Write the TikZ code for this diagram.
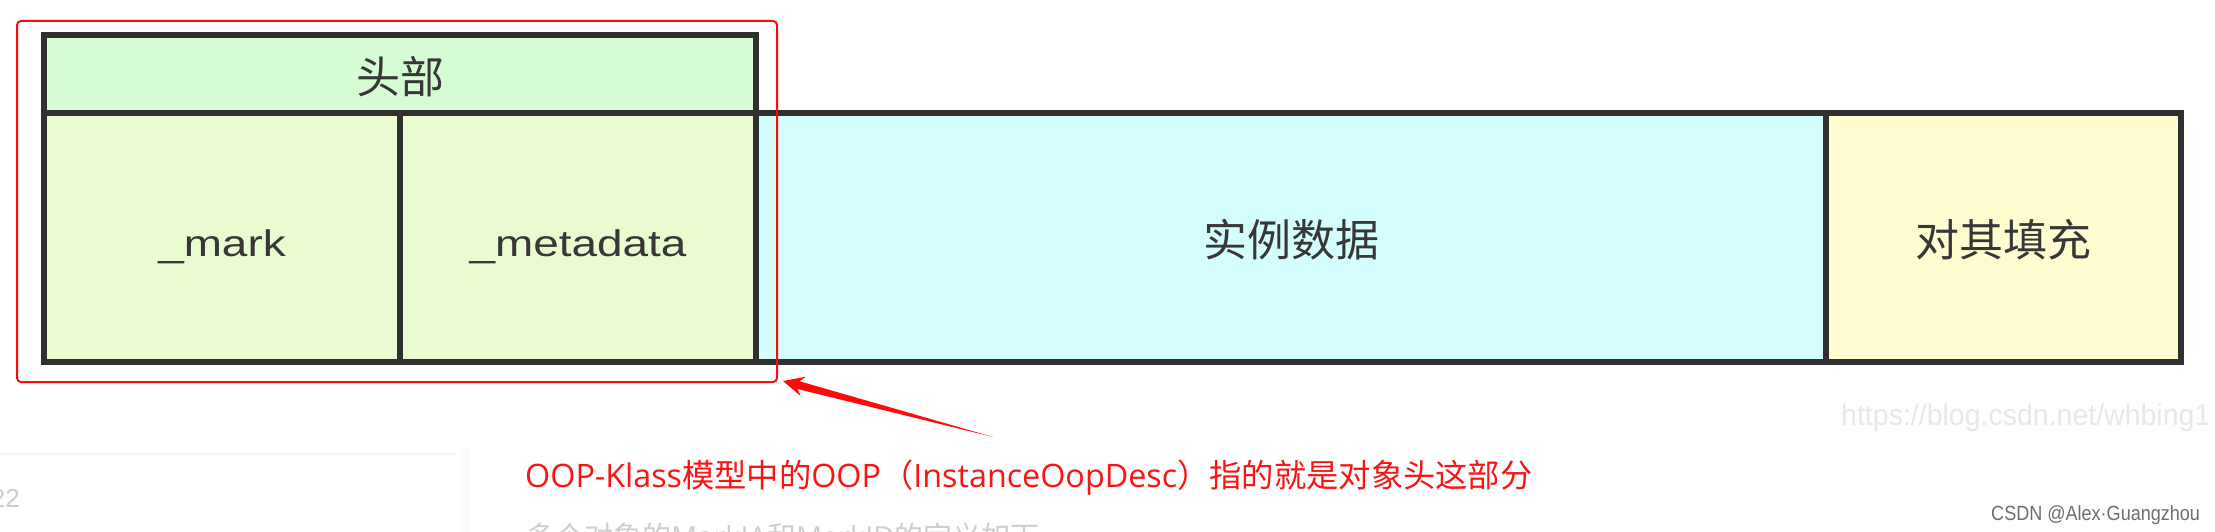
\documentclass[tikz,border=0pt]{standalone}
\usepackage{fontspec}
\setmainfont{Liberation Sans}
\newfontfamily\cjk{Noto Sans CJK SC}
\newfontfamily\osans{Open Sans}
\usetikzlibrary{calc}
\definecolor{bordergray}{RGB}{48,48,48}
\definecolor{txtgray}{RGB}{55,55,55}
\definecolor{hdrgreen}{RGB}{213,252,211}
\definecolor{cellgreen}{RGB}{234,252,207}
\definecolor{instcyan}{RGB}{212,254,254}
\definecolor{padyellow}{RGB}{255,253,208}
\definecolor{redline}{RGB}{255,10,10}
\definecolor{redtxt}{RGB}{250,20,20}
\definecolor{fadegray}{RGB}{205,205,205}
\definecolor{wmgray}{RGB}{232,232,232}
\definecolor{csdngray}{RGB}{110,110,110}
\definecolor{panelline}{RGB}{245,245,245}
\definecolor{panelfill}{RGB}{251,251,251}
\newcommand{\sx}[2]{\scalebox{#1}[1]{#2}}
\tikzset{
  cell/.style={draw=bordergray, line width=5.5pt, minimum height=249pt, inner sep=0pt, anchor=center},
  cjklbl/.style={font=\cjk\fontsize{44}{50}\selectfont, text=txtgray, inner sep=0pt},
  latlbl/.style={font=\fontsize{37}{44}\selectfont, text=txtgray, inner sep=0pt},
  redframe/.style={draw=redline, line width=2pt, rounded corners=4pt, inner sep=0pt},
  plaintext/.style={inner sep=0pt},
}
\begin{document}
\begin{tikzpicture}[x=1pt,y=-1pt]
\useasboundingbox (0,0) rectangle (2215,532);
\clip (0,0) rectangle (2215,532);
\fill[white] (0,0) rectangle (2215,532);
% faint page panels
\draw[panelline, line width=2pt] (0,454) -- (457,454);
\fill[panelfill] (460,448) rectangle (470,532);
% cells
\node[cell, fill=hdrgreen, minimum width=712pt, minimum height=78pt] (header) at (400,74) {};
\node[cell, fill=cellgreen, minimum width=356pt] (mark) at (222,237.5) {};
\node[cell, fill=cellgreen, minimum width=356pt] (meta) at (578,237.5) {};
\node[cell, fill=instcyan, minimum width=1070pt] (inst) at (1291,237.5) {};
\node[cell, fill=padyellow, minimum width=355pt] (pad) at (2003.5,237.5) {};
% labels
\node[cjklbl] (hdrtxt) at ([yshift=-3pt]header.center) {头部};
\node[latlbl] (marktxt) at ([yshift=-9pt]mark.center) {\sx{1.24}{\_mark}};
\node[latlbl] (metatxt) at ([yshift=-9pt]meta.center) {\sx{1.24}{\_metadata}};
\node[cjklbl] (insttxt) at ([yshift=-2.5pt]inst.center) {实例数据};
\node[cjklbl] (padtxt) at ([yshift=-2.5pt]pad.center) {对其填充};
% red highlight frame
\node[redframe, minimum width=760pt, minimum height=361pt] (redbox) at (397,201.5) {};
% tapered red arrow
\coordinate (tip) at (783,381);
\coordinate (tail) at (993,437);
\coordinate (hb) at ($(tip)!21pt!(tail)$);
\coordinate (sb) at ($(tip)!16pt!(tail)$);
\fill[redline] (tip) -- ($(hb)!10pt!90:(tail)$) -- ($(sb)!4pt!90:(tail)$) -- (tail)
  -- ($(sb)!4pt!-90:(tail)$) -- ($(hb)!10pt!-90:(tail)$) -- cycle;
% annotation text
\node[plaintext, anchor=base west, text=redtxt, font=\fontsize{32.3}{38}\selectfont] (note) at (525,487)
  {{\osans OOP-Klass}{\cjk 模型中的}{\osans OOP}{\cjk （}{\osans InstanceOopDesc}{\cjk ）指的就是对象头这部分}};
\node[plaintext, anchor=base west, text=fadegray, font=\fontsize{29}{34}\selectfont] (nextline) at (526,547)
  {{\cjk 多个对象的}{\osans MarkIA}{\cjk 和}{\osans MarkID}{\cjk 的定义如下}};
\node[plaintext, anchor=base east, text=fadegray, font=\fontsize{26}{30}\selectfont] (pagenum) at (20,507) {22};
\node[plaintext, anchor=base west, text=wmgray, font=\fontsize{30}{36}\selectfont] (wm) at (1841,425)
  {\sx{0.95}{https://blog.csdn.net/whbing1}};
\node[plaintext, anchor=base west, text=csdngray, font=\fontsize{20.5}{24}\selectfont] (csdn) at (1991,520)
  {\sx{0.88}{CSDN @Alex·Guangzhou}};
\end{tikzpicture}
\end{document}
